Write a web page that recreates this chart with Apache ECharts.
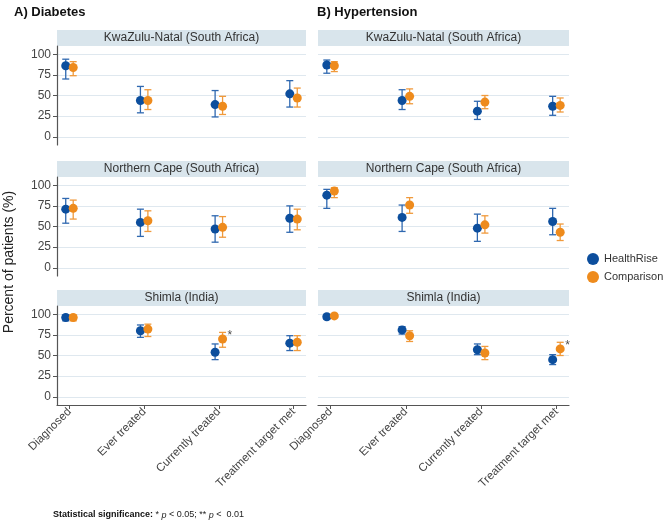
<!DOCTYPE html>
<html>
<head>
<meta charset="utf-8">
<script src="https://cdn.jsdelivr.net/npm/echarts@6/dist/echarts.min.js"></script>
<style>html,body{margin:0;padding:0;background:#fff}#c{width:667px;height:525px}</style>
</head>
<body>
<div id="c"></div>
<script>
// ---------- DATA ----------
const categories = ['Diagnosed', 'Ever treated', 'Currently treated', 'Treatment target met'];
const yTicks = [0, 25, 50, 75, 100];
const diseases = ['A) Diabetes', 'B) Hypertension'];
const sites = ['KwaZulu-Natal (South Africa)', 'Northern Cape (South Africa)', 'Shimla (India)'];
const seriesNames = ['HealthRise', 'Comparison'];

// Diabetes – KwaZulu-Natal
const diabKZN_HR      = [86, 44, 39, 52];
const diabKZN_HR_lo   = [70, 29, 24, 36];
const diabKZN_HR_hi   = [94, 61, 56, 68];
const diabKZN_CMP     = [84, 44, 37, 47];
const diabKZN_CMP_lo  = [74, 33, 27, 36];
const diabKZN_CMP_hi  = [91, 57, 49, 59];
// Diabetes – Northern Cape
const diabNC_HR       = [71, 55, 47, 60];
const diabNC_HR_lo    = [54, 38, 31, 43];
const diabNC_HR_hi    = [84, 71, 63, 75];
const diabNC_CMP      = [72, 57, 49, 59];
const diabNC_CMP_lo   = [59, 44, 37, 46];
const diabNC_CMP_hi   = [82, 69, 62, 71];
// Diabetes – Shimla
const diabSH_HR       = [96, 80, 54, 65];
const diabSH_HR_lo    = [92, 72, 45, 56];
const diabSH_HR_hi    = [99, 87, 64, 74];
const diabSH_CMP      = [96, 82, 70, 66];
const diabSH_CMP_lo   = [92, 73, 60, 56];
const diabSH_CMP_hi   = [99, 88, 78, 74];
const diabSH_sig      = ['', '', '*', ''];
// Hypertension – KwaZulu-Natal
const hypKZN_HR       = [87, 44, 31, 37];
const hypKZN_HR_lo    = [77, 33, 21, 26];
const hypKZN_HR_hi    = [93, 57, 43, 49];
const hypKZN_CMP      = [86, 49, 42, 38];
const hypKZN_CMP_lo   = [79, 40, 34, 30];
const hypKZN_CMP_hi   = [91, 58, 50, 47];
// Hypertension – Northern Cape
const hypNC_HR        = [88, 61, 48, 56];
const hypNC_HR_lo     = [72, 44, 32, 40];
const hypNC_HR_hi     = [95, 76, 65, 72];
const hypNC_CMP       = [93, 76, 52, 43];
const hypNC_CMP_lo    = [85, 66, 42, 33];
const hypNC_CMP_hi    = [97, 85, 63, 53];
// Hypertension – Shimla
const hypSH_HR        = [97, 81, 57, 45];
const hypSH_HR_lo     = [94, 76, 51, 39];
const hypSH_HR_hi     = [99, 85, 64, 51];
const hypSH_CMP       = [98, 74, 53, 58];
const hypSH_CMP_lo    = [96, 67, 45, 50];
const hypSH_CMP_hi    = [100, 80, 61, 66];
const hypSH_sig       = ['', '', '', '*'];

// ---------- LAYOUT ----------
const colors = ['#0c4e9d', '#ee8b1d'];
const barColors = ['#2f68b0', '#f09a3c'];
const colLeft = [57, 318];
const colWidth = [249, 251];
const rowTop = [46, 177, 306];
const gridH = 99;
const stripH = 16;
const dodge = 0.05;

const panels = [
  [0,0, diabKZN_HR, diabKZN_HR_lo, diabKZN_HR_hi, diabKZN_CMP, diabKZN_CMP_lo, diabKZN_CMP_hi, null],
  [0,1, diabNC_HR, diabNC_HR_lo, diabNC_HR_hi, diabNC_CMP, diabNC_CMP_lo, diabNC_CMP_hi, null],
  [0,2, diabSH_HR, diabSH_HR_lo, diabSH_HR_hi, diabSH_CMP, diabSH_CMP_lo, diabSH_CMP_hi, diabSH_sig],
  [1,0, hypKZN_HR, hypKZN_HR_lo, hypKZN_HR_hi, hypKZN_CMP, hypKZN_CMP_lo, hypKZN_CMP_hi, null],
  [1,1, hypNC_HR, hypNC_HR_lo, hypNC_HR_hi, hypNC_CMP, hypNC_CMP_lo, hypNC_CMP_hi, null],
  [1,2, hypSH_HR, hypSH_HR_lo, hypSH_HR_hi, hypSH_CMP, hypSH_CMP_lo, hypSH_CMP_hi, hypSH_sig]
];

const grids = [], xAxes = [], yAxes = [], series = [], graphics = [];

function errorBarRender(params, api) {
  const x = api.value(0), lo = api.value(1), hi = api.value(2);
  const pLo = api.coord([x, lo]);
  const pHi = api.coord([x, hi]);
  const cap = 3.5;
  const st = api.style({ stroke: api.visual('color'), fill: null, lineWidth: 1.3 });
  return {
    type: 'group',
    children: [
      { type: 'line', shape: { x1: pLo[0], y1: pLo[1], x2: pHi[0], y2: pHi[1] }, style: st },
      { type: 'line', shape: { x1: pLo[0]-cap, y1: pLo[1], x2: pLo[0]+cap, y2: pLo[1] }, style: st },
      { type: 'line', shape: { x1: pHi[0]-cap, y1: pHi[1], x2: pHi[0]+cap, y2: pHi[1] }, style: st }
    ]
  };
}

panels.forEach((p, gi) => {
  const [col, row, hr, hrlo, hrhi, cmp, cmplo, cmphi, sig] = p;
  const isBottom = row === 2, isLeft = col === 0;
  grids.push({ left: colLeft[col], top: rowTop[row], width: colWidth[col], height: gridH });
  xAxes.push({
    gridIndex: gi, type: 'value', min: -0.167, max: 3.167,
    splitLine: { show: false },
    axisLine: { show: isBottom, onZero: false, lineStyle: { color: '#555', width: 1.2 } },
    axisTick: { show: isBottom, length: 4, lineStyle: { color: '#555' }, customValues: [0,1,2,3] },
    axisLabel: {
      show: isBottom, customValues: [0,1,2,3], rotate: 45, color: '#444', fontSize: 11.5,
      fontFamily: 'Liberation Sans, Arial, sans-serif', margin: 5,
      formatter: v => categories[Math.round(v)] || ''
    }
  });
  yAxes.push({
    gridIndex: gi, type: 'value', min: -10, max: 110,
    axisLine: { show: isLeft, onZero: false, lineStyle: { color: '#555', width: 1.2 } },
    axisTick: { show: isLeft, length: 4, lineStyle: { color: '#555' }, customValues: yTicks },
    axisLabel: { show: isLeft, customValues: yTicks, color: '#444', fontSize: 12, margin: 6,
      fontFamily: 'Liberation Sans, Arial, sans-serif' },
    splitLine: { show: true, lineStyle: { color: '#dfe8ef', width: 1.2 } }
  });
  const sets = [[hr, hrlo, hrhi, -dodge], [cmp, cmplo, cmphi, dodge]];
  sets.forEach((s, si) => {
    const [v, lo, hi, off] = s;
    series.push({
      type: 'custom', name: seriesNames[si], xAxisIndex: gi, yAxisIndex: gi,
      renderItem: errorBarRender, itemStyle: { color: barColors[si] },
      data: v.map((_, i) => [i + off, lo[i], hi[i]]), z: 2, silent: true
    });
    series.push({
      type: 'scatter', name: seriesNames[si], xAxisIndex: gi, yAxisIndex: gi,
      symbol: 'circle', symbolSize: 9, itemStyle: { color: colors[si], opacity: 1 },
      data: v.map((y, i) => [i + off, y]), z: 3
    });
  });
  if (sig) {
    series.push({
      type: 'scatter', xAxisIndex: gi, yAxisIndex: gi, symbolSize: 0,
      data: sig.map((t, i) => t ? { value: [i + dodge, cmphi[i]], label: { formatter: t } } : null).filter(Boolean),
      label: { show: true, position: 'right', distance: 5, color: '#222', fontSize: 12, offset: [0, 3] },
      z: 4, silent: true
    });
  }
  graphics.push({
    type: 'rect', left: colLeft[col], top: rowTop[row] - stripH, silent: true,
    shape: { width: colWidth[col], height: stripH }, style: { fill: '#d9e5ec' }
  });
  graphics.push({
    type: 'text', silent: true,
    x: colLeft[col] + colWidth[col] / 2, y: rowTop[row] - stripH / 2,
    style: { text: sites[row], align: 'center', verticalAlign: 'middle', fill: '#333',
      font: '12px "Liberation Sans", Arial, sans-serif' }
  });
});

graphics.push({ type: 'text', x: 14, y: 12, silent: true,
  style: { text: diseases[0], verticalAlign: 'middle', fill: '#111', font: 'bold 13px "Liberation Sans", Arial, sans-serif' } });
graphics.push({ type: 'text', x: 317, y: 12, silent: true,
  style: { text: diseases[1], verticalAlign: 'middle', fill: '#111', font: 'bold 13px "Liberation Sans", Arial, sans-serif' } });
graphics.push({ type: 'text', x: 9, y: 262, rotation: Math.PI / 2, silent: true,
  style: { text: 'Percent of patients (%)', align: 'center', verticalAlign: 'middle', fill: '#222',
    font: '14px "Liberation Sans", Arial, sans-serif' } });
graphics.push({ type: 'text', x: 53, y: 515, silent: true,
  style: {
    text: '{b|Statistical significance:} * {i|p} < 0.05; ** {i|p} <  0.01',
    verticalAlign: 'middle', fill: '#222', font: '9px "Liberation Sans", Arial, sans-serif',
    rich: {
      b: { fontWeight: 'bold', fontSize: 9, fill: '#111', fontFamily: 'Liberation Sans, Arial, sans-serif' },
      i: { fontStyle: 'italic', fontSize: 9, fill: '#222', fontFamily: 'Liberation Sans, Arial, sans-serif' }
    }
  } });

const chart = echarts.init(document.getElementById('c'), null, { renderer: 'canvas' });
chart.setOption({
  animation: false,
  backgroundColor: '#ffffff',
  textStyle: { fontFamily: 'Liberation Sans, Arial, sans-serif' },
  grid: grids, xAxis: xAxes, yAxis: yAxes, series: series,
  legend: {
    data: seriesNames.map((n, i) => ({ name: n, itemStyle: { color: colors[i] } })),
    orient: 'vertical', left: 587, top: 253, icon: 'circle', itemWidth: 12, itemHeight: 12,
    itemGap: 6, textStyle: { color: '#333', fontSize: 11 }, selectedMode: false, padding: 0
  },
  graphic: graphics
});
</script>
</body>
</html>
